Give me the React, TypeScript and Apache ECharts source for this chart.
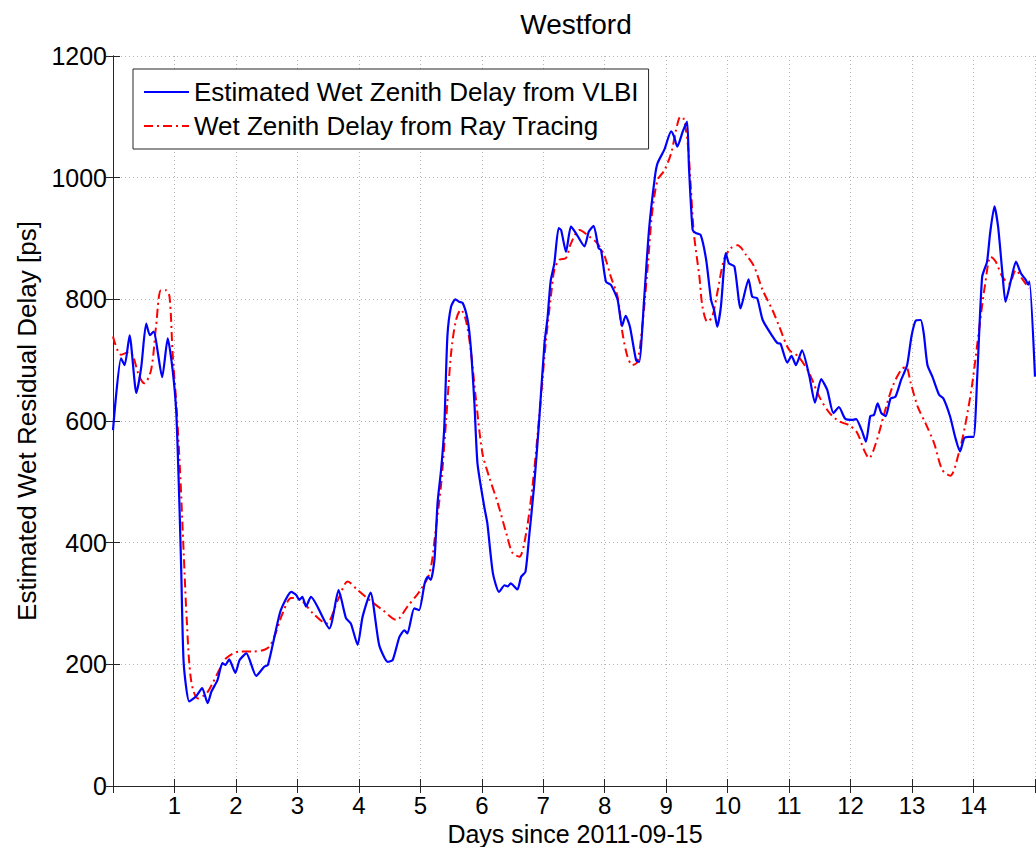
import React, { useEffect, useRef } from "react";
import * as echarts from "echarts";

const titleText = "Westford";
const xAxisName = "Days since 2011-09-15";
const yAxisName = "Estimated Wet Residual Delay [ps]";
const vlbiName = "Estimated Wet Zenith Delay from VLBI";
const rayName = "Wet Zenith Delay from Ray Tracing";

const vlbiDays = [
  0.0, 0.13, 0.19, 0.27, 0.38, 0.46, 0.54, 0.6, 0.66, 0.8, 0.89, 0.97, 1.03, 1.08, 1.11, 1.15, 1.24, 1.35, 1.45, 1.54,
  1.6, 1.7, 1.78, 1.83, 1.89, 1.99, 2.06, 2.17, 2.33, 2.46, 2.52, 2.65, 2.73, 2.9, 2.98, 3.03, 3.08, 3.14, 3.22, 3.52,
  3.67, 3.79, 3.87, 3.98, 4.06, 4.19, 4.33, 4.47, 4.55, 4.66, 4.74, 4.79, 4.9, 4.98, 5.07, 5.12, 5.17, 5.23, 5.28, 5.34,
  5.39, 5.44, 5.5, 5.57, 5.63, 5.69, 5.77, 5.82, 5.88, 5.93, 6.04, 6.09, 6.18, 6.28, 6.37, 6.42, 6.47, 6.58, 6.64, 6.71,
  6.77, 6.85, 6.93, 7.02, 7.07, 7.12, 7.18, 7.25, 7.29, 7.37, 7.45, 7.53, 7.67, 7.74, 7.82, 7.9, 7.94, 8.02, 8.1, 8.21,
  8.28, 8.34, 8.41, 8.51, 8.56, 8.64, 8.72, 8.82, 8.86, 8.97, 9.08, 9.13, 9.18, 9.27, 9.34, 9.37, 9.43, 9.48, 9.56, 9.65,
  9.73, 9.78, 9.83, 9.89, 9.97, 10.02, 10.11, 10.21, 10.34, 10.4, 10.48, 10.57, 10.73, 10.81, 10.86, 10.97, 11.04, 11.11,
  11.21, 11.33, 11.42, 11.52, 11.62, 11.72, 11.81, 11.91, 12.04, 12.09, 12.18, 12.25, 12.32, 12.38, 12.44, 12.5, 12.57,
  12.65, 12.73, 12.82, 12.92, 12.99, 13.06, 13.14, 13.19, 13.25, 13.33, 13.44, 13.51, 13.62, 13.7, 13.78, 13.85, 13.92,
  14.0, 14.06, 14.14, 14.22, 14.27, 14.34, 14.4, 14.47, 14.52, 14.61, 14.69, 14.77, 14.85, 14.89, 14.91, 15.0,
];
const vlbiDelay = [
  585, 703, 692, 741, 646, 689, 760, 741, 747, 672, 736, 684, 613, 465, 355, 202, 139, 147, 161, 136,
  155, 174, 202, 199, 208, 186, 207, 218, 181, 196, 199, 256, 289, 319, 314, 306, 311, 295, 311, 259,
  322, 276, 267, 232, 278, 318, 232, 204, 207, 245, 256, 251, 292, 289, 333, 344, 339, 372, 465, 522,
  591, 739, 788, 800, 796, 794, 766, 722, 629, 530, 459, 432, 350, 319, 330, 328, 333, 323, 344, 352,
  410, 492, 596, 728, 770, 830, 859, 917, 914, 878, 920, 909, 887, 911, 921, 884, 881, 829, 824, 799,
  756, 773, 755, 700, 697, 799, 914, 1004, 1024, 1046, 1076, 1067, 1051, 1076, 1092, 1018, 914, 909, 906, 865,
  799, 782, 755, 788, 876, 859, 854, 785, 833, 804, 802, 766, 739, 728, 727, 696, 707, 692,
  716, 673, 630, 669, 651, 613, 623, 604, 602, 603, 585, 566, 608, 610, 629, 613, 608,
  637, 640, 667, 692, 739, 765, 766, 744, 692, 673, 643, 637, 607, 574, 550, 572, 574,
  574, 673, 837, 862, 909, 953, 919, 843, 796, 832, 862, 843, 832, 824, 829, 673,
];

const rayDays = [
  0.0, 0.13, 0.27, 0.43, 0.51, 0.62, 0.7, 0.78, 0.86, 0.92, 0.97, 1.03, 1.09, 1.15, 1.2, 1.27, 1.38, 1.52, 1.62, 1.73,
  1.84, 2.06, 2.27, 2.54, 2.76, 2.9, 3.06, 3.25, 3.47, 3.66, 3.82, 3.98, 4.17, 4.39, 4.61, 4.79, 4.98, 5.15, 5.25, 5.34,
  5.42, 5.5, 5.58, 5.66, 5.74, 5.82, 5.9, 6.01, 6.12, 6.26, 6.4, 6.5, 6.61, 6.72, 6.83, 6.93, 7.04, 7.13, 7.18, 7.26,
  7.37, 7.45, 7.59, 7.75, 7.88, 7.99, 8.1, 8.21, 8.29, 8.37, 8.45, 8.53, 8.61, 8.7, 8.77, 8.86, 8.97, 9.08, 9.16, 9.23,
  9.28, 9.35, 9.4, 9.45, 9.54, 9.59, 9.67, 9.75, 9.83, 9.94, 10.05, 10.16, 10.3, 10.43, 10.57, 10.73, 10.84, 11.0, 11.15,
  11.33, 11.49, 11.66, 11.82, 11.98, 12.11, 12.22, 12.3, 12.41, 12.55, 12.68, 12.82, 12.9, 12.98, 13.09, 13.22, 13.36,
  13.49, 13.62, 13.76, 13.87, 13.98, 14.09, 14.19, 14.28, 14.36, 14.47, 14.58, 14.69, 14.79, 14.9,
];
const rayDelay = [
  739, 709, 714, 673, 662, 684, 755, 815, 815, 804, 711, 629, 520, 383, 273, 174, 144, 152, 169, 191,
  210, 221, 221, 229, 284, 309, 306, 284, 267, 306, 336, 322, 306, 289, 273, 295, 319, 350, 421, 498,
  602, 711, 766, 783, 766, 717, 640, 547, 508, 465, 415, 383, 377, 415, 498, 602, 728, 810, 848, 865,
  868, 892, 914, 903, 892, 873, 837, 804, 744, 706, 692, 697, 755, 854, 941, 996, 1012, 1040, 1078, 1100,
  1098, 1057, 985, 909, 837, 788, 763, 772, 810, 865, 884, 889, 873, 854, 815, 782, 755, 717, 706,
  678, 640, 613, 599, 593, 580, 552, 539, 563, 613, 656, 684, 689, 662, 624, 596, 563,
  520, 510, 547, 596, 662, 750, 826, 870, 862, 837, 826, 848, 834, 818,
];

const xTicks = [1, 2, 3, 4, 5, 6, 7, 8, 9, 10, 11, 12, 13, 14];
const yTicks = [0, 200, 400, 600, 800, 1000, 1200];

const FONT = "Liberation Sans, Arial, Helvetica, sans-serif";

export default function App() {
  const ref = useRef<HTMLDivElement>(null);
  useEffect(() => {
    if (!ref.current) return;
    const chart = echarts.init(ref.current, null, { renderer: "svg" });
    const zip = (xs: number[], ys: number[]) => xs.map((x, i) => [x, ys[i]]);
    const gridLine = { show: true, lineStyle: { color: "#b4b4b4", type: [1, 3] as any, width: 1 } };
    const frameLine = { show: true, lineStyle: { color: "#262626", width: 1 } };
    const tickIn = { show: true, inside: true, length: 7, lineStyle: { color: "#262626" } };
    chart.setOption({
      animation: false,
      backgroundColor: "#ffffff",
      title: {
        text: titleText,
        left: 576,
        top: 10,
        textAlign: "center",
        padding: 0,
        textStyle: { fontFamily: FONT, fontSize: 28, fontWeight: "normal", color: "#000" },
      },
      legend: {
        orient: "vertical",
        left: 133,
        top: 69,
        backgroundColor: "#ffffff",
        borderColor: "#262626",
        borderWidth: 1,
        padding: [10, 10, 10, 10],
        itemWidth: 45,
        itemHeight: 14,
        itemGap: 8,
        itemStyle: { opacity: 0, borderWidth: 0 },
        textStyle: { fontFamily: FONT, fontSize: 26, color: "#000" },
        data: [vlbiName, rayName],
      },
      graphic: [
        {
          type: "text",
          x: 575,
          y: 834,
          style: {
            text: xAxisName,
            fontFamily: FONT,
            fontSize: 25,
            fill: "#000",
            align: "center",
            verticalAlign: "middle",
          },
        },
      ],
      grid: { left: 113, right: 1, top: 56, bottom: 61, outerBoundsMode: "none", containLabel: false },
      xAxis: [
        {
          type: "value",
          min: 0,
          max: 15,
          interval: 1,
          position: "bottom",
          axisLine: frameLine,
          axisTick: tickIn,
          splitLine: gridLine,
          axisLabel: {
            fontFamily: FONT,
            fontSize: 24,
            color: "#000",
            margin: 7,
            formatter: (v: number) => (xTicks.indexOf(v) >= 0 ? String(v) : ""),
          },
        },
        {
          type: "value",
          min: 0,
          max: 15,
          interval: 1,
          position: "top",
          axisLine: frameLine,
          axisTick: tickIn,
          splitLine: { show: false },
          axisLabel: { show: false },
        },
      ],
      yAxis: [
        {
          type: "value",
          min: 0,
          max: 1200,
          interval: 200,
          position: "left",
          name: yAxisName,
          nameLocation: "middle",
          nameGap: 72,
          nameTextStyle: { fontFamily: FONT, fontSize: 26, color: "#000" },
          axisLine: frameLine,
          axisTick: tickIn,
          splitLine: gridLine,
          axisLabel: {
            fontFamily: FONT,
            fontSize: 25,
            color: "#000",
            margin: 6,
            formatter: (v: number) => (yTicks.indexOf(v) >= 0 ? String(v) : ""),
          },
        },
        {
          type: "value",
          min: 0,
          max: 1200,
          interval: 200,
          position: "right",
          axisLine: frameLine,
          axisTick: tickIn,
          splitLine: { show: false },
          axisLabel: { show: false },
        },
      ],
      series: [
        {
          name: vlbiName,
          type: "line",
          xAxisIndex: 0,
          yAxisIndex: 0,
          data: zip(vlbiDays, vlbiDelay),
          showSymbol: false,
          symbol: "none",
          smooth: 0.2,
          lineStyle: { color: "#0000ff", width: 2.2 },
          itemStyle: { color: "#0000ff" },
          z: 3,
        },
        {
          name: rayName,
          type: "line",
          xAxisIndex: 0,
          yAxisIndex: 0,
          data: zip(rayDays, rayDelay),
          showSymbol: false,
          symbol: "none",
          smooth: 0.3,
          lineStyle: { color: "#ff0000", width: 2, type: [9, 4, 2, 4] },
          itemStyle: { color: "#ff0000" },
          z: 2,
        },
      ],
    });
    return () => chart.dispose();
  }, []);
  return (
    <div
      ref={ref}
      style={{ position: "fixed", left: 0, top: 0, width: 1036, height: 847, background: "#fff" }}
    />
  );
}
